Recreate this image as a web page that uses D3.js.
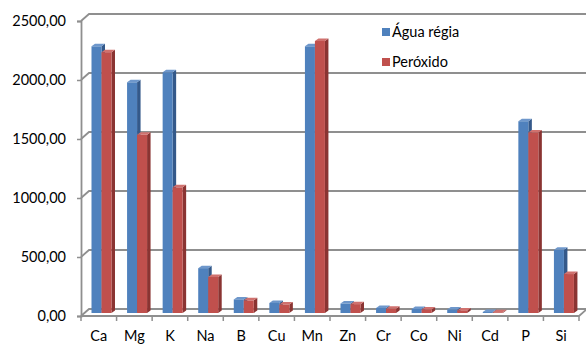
<!DOCTYPE html>
<html>
<head>
<meta charset="utf-8">
<script src="https://cdnjs.cloudflare.com/ajax/libs/d3/7.8.5/d3.min.js"></script>
<style>
  html, body { margin: 0; padding: 0; background: #fff; }
  svg { display: block; }
  text { font-family: Lato, "Open Sans", sans-serif; fill: #000; }
</style>
</head>
<body>
<svg id="chart" width="586" height="345"></svg>
<script>
// Elements analysed and the two extraction methods
const categories = ["Ca", "Mg", "K", "Na", "B", "Cu", "Mn", "Zn", "Cr", "Co", "Ni", "Cd", "P", "Si"];
const seriesNames = ["Água régia", "Peróxido"];
const aguaRegia = [2260, 1955, 2040, 380, 115, 85, 2260, 80, 42, 34, 30, 8, 1625, 535];
const peroxido  = [2210, 1510, 1065, 305, 107, 72, 2305, 75, 36, 30, 22, 6, 1530, 330];
const yTicks = [0, 500, 1000, 1500, 2000, 2500];

const colors = {
  "Água régia": { front: "#4F81BD", side: "#34598A", top: "#6E97CB" },
  "Peróxido":   { front: "#C0504D", side: "#8A3432", top: "#D0716E" }
};

const svg = d3.select("#chart");

// Front plane of the 3D box and the depth offset to its back wall
const x = d3.scaleBand().domain(categories).range([81, 579]);
const y = d3.scaleLinear().domain([0, 2500]).range([316, 21]);
const depth = { dx: 8, dy: -7 };

// Bars sit part way into the box
const barShift = { dx: 3.5, dy: -3 };
const barDepth = { dx: 3.5, dy: -2.5 };
const inner = d3.scaleBand().domain(seriesNames).range([7, 27]);

const gridColor = "#8f8f8f";

// Side wall diagonals and back wall gridlines
const grid = svg.append("g");
yTicks.forEach(v => {
  const y0 = y(v);
  const x0 = x.range()[0];
  const x1 = x.range()[1];
  grid.append("path")
    .attr("d", `M${x0},${y0} L${x0 + depth.dx},${y0 + depth.dy} L${x1 + depth.dx},${y0 + depth.dy}`)
    .attr("fill", "none")
    .attr("stroke", gridColor)
    .attr("stroke-width", 1.8);
});

// Floor front edge and right edge
{
  const x0 = x.range()[0], x1 = x.range()[1], y0 = y(0);
  svg.append("path")
    .attr("d", `M${x0},${y0} L${x1},${y0} L${x1 + depth.dx},${y0 + depth.dy}`)
    .attr("fill", "none")
    .attr("stroke", gridColor)
    .attr("stroke-width", 1.8);
}

// Value axis
const yAxis = svg.append("g")
  .attr("transform", `translate(${x.range()[0]},0)`)
  .call(d3.axisLeft(y)
    .tickValues(yTicks)
    .tickSize(4)
    .tickPadding(11)
    .tickFormat(d => d3.format(".2f")(d).replace(".", ",")));
yAxis.select(".domain").attr("stroke", gridColor).attr("stroke-width", 1.8);
yAxis.selectAll(".tick line").attr("stroke", gridColor).attr("stroke-width", 1.5);
yAxis.selectAll(".tick text")
  .style("font-family", "Lato, 'Open Sans', sans-serif")
  .style("font-size", "14.5px")
  .attr("fill", "#000");

// Category axis: labels centred in each band, ticks on band boundaries
const xAxis = svg.append("g")
  .attr("transform", `translate(0,${y(0)})`)
  .call(d3.axisBottom(x).tickSize(0).tickPadding(15));
xAxis.select(".domain").remove();
xAxis.selectAll(".tick text")
  .style("font-family", "Lato, 'Open Sans', sans-serif")
  .style("font-size", "14.5px")
  .attr("fill", "#000");
const boundaries = categories.map(c => x(c)).concat([x.range()[1]]);
xAxis.selectAll("line.boundary")
  .data(boundaries)
  .join("line")
  .attr("class", "boundary")
  .attr("x1", d => d).attr("x2", d => d)
  .attr("y1", 0).attr("y2", 5)
  .attr("stroke", gridColor)
  .attr("stroke-width", 1.5);

// 3D columns
const bars = svg.append("g");
const data = categories.map((c, i) => ({
  cat: c,
  values: [
    { name: seriesNames[0], value: aguaRegia[i] },
    { name: seriesNames[1], value: peroxido[i] }
  ]
}));

data.forEach(d => {
  d.values.forEach(s => {
    const w = inner.bandwidth();
    const left = x(d.cat) + inner(s.name) + barShift.dx;
    const right = left + w;
    const bottom = y(0) + barShift.dy;
    const top = y(s.value) + barShift.dy;
    const c = colors[s.name];
    const g = bars.append("g");
    // side face
    g.append("path")
      .attr("d", `M${right},${bottom} L${right + barDepth.dx},${bottom + barDepth.dy} L${right + barDepth.dx},${top + barDepth.dy} L${right},${top} Z`)
      .attr("fill", c.side);
    // top face
    g.append("path")
      .attr("d", `M${left},${top} L${left + barDepth.dx},${top + barDepth.dy} L${right + barDepth.dx},${top + barDepth.dy} L${right},${top} Z`)
      .attr("fill", c.top);
    // front face
    g.append("rect")
      .attr("x", left)
      .attr("y", top)
      .attr("width", w)
      .attr("height", bottom - top)
      .attr("fill", c.front);
  });
});

// Legend
const legend = svg.append("g");
seriesNames.forEach((name, i) => {
  const row = legend.append("g").attr("transform", `translate(382,${28 + i * 30})`);
  row.append("rect")
    .attr("width", 8).attr("height", 8)
    .attr("fill", colors[name].front);
  row.append("text")
    .attr("x", 10)
    .attr("y", 8.5)
    .style("font-size", "14.5px")
    .text(name);
});
</script>
</body>
</html>
